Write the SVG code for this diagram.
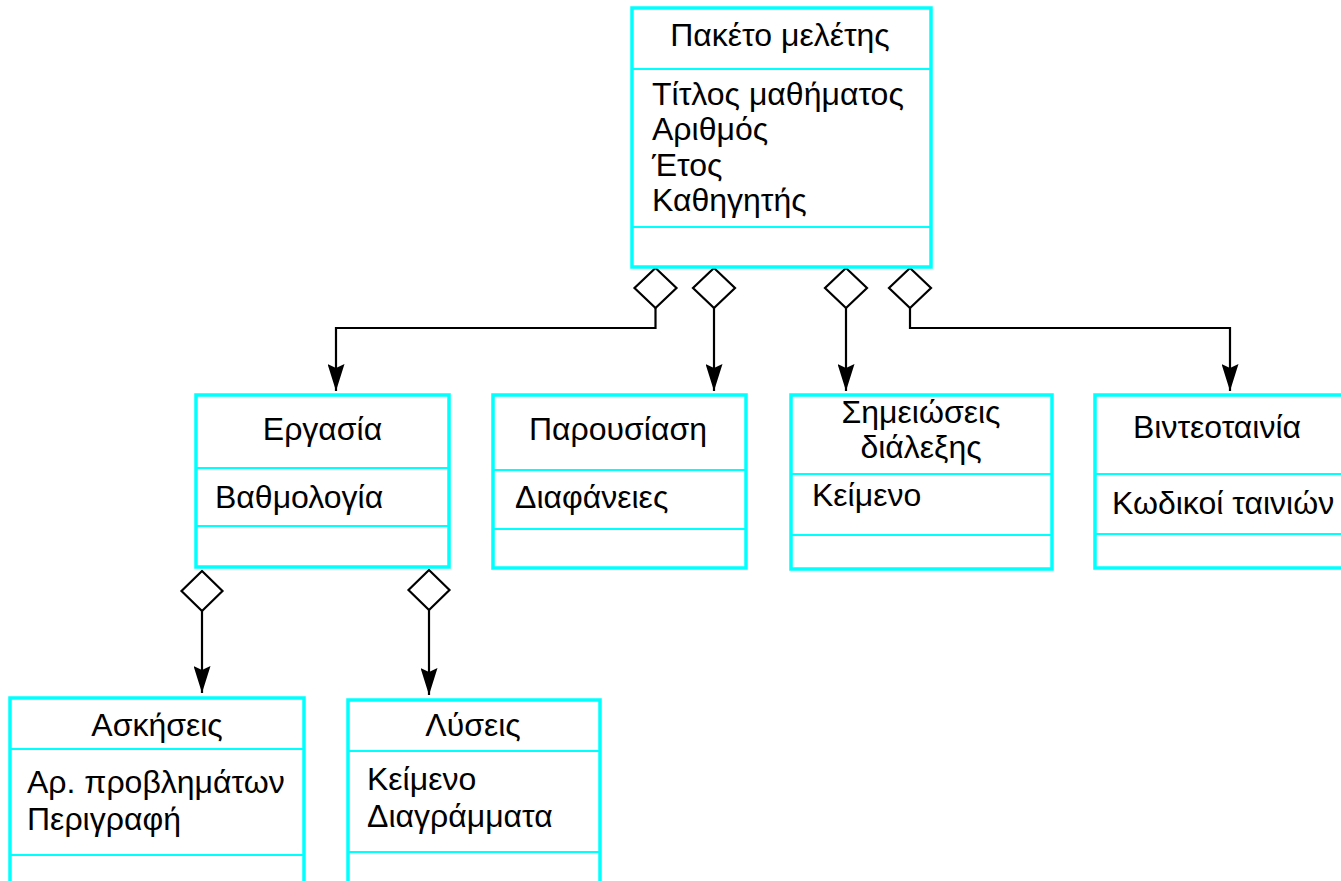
<svg xmlns="http://www.w3.org/2000/svg" width="1341" height="881" viewBox="0 0 1341 881">
<defs>
<style>
.box{fill:#fff;stroke:#00FFFF;stroke-width:3.5}
.div{stroke:#00FFFF;stroke-width:2}
.t{font-family:"Liberation Sans",Arial,sans-serif;font-size:32px;fill:#000}
.c{text-anchor:middle}
.ln{fill:none;stroke:#000;stroke-width:2.2}
.dia{fill:#fff;stroke:#000;stroke-width:2.2}
</style>
<marker id="arr" markerUnits="userSpaceOnUse" markerWidth="28" markerHeight="17" refX="27" refY="8.5" orient="auto" viewBox="0 0 28 17">
<path d="M0,0 L4,8.5 L0,17 L27,8.5 Z" fill="#000"/>
</marker>
</defs>
<rect width="1341" height="881" fill="#fff"/>

<g id="connectors">
<path class="ln" d="M655.5,308 V328 H336 V391" marker-end="url(#arr)"/>
<path class="dia" d="M655.5,268 L676.5,288 L655.5,308 L634.5,288 Z"/>
<path class="ln" d="M714,308 V391" marker-end="url(#arr)"/>
<path class="dia" d="M714,268 L735,288 L714,308 L693,288 Z"/>
<path class="ln" d="M846,308 V391" marker-end="url(#arr)"/>
<path class="dia" d="M846,268 L867,288 L846,308 L825,288 Z"/>
<path class="ln" d="M910,308 V328 H1230 V391" marker-end="url(#arr)"/>
<path class="dia" d="M910,268 L931,288 L910,308 L889,288 Z"/>
<path class="ln" d="M202,611 V693" marker-end="url(#arr)"/>
<path class="dia" d="M202,571 L222.5,591 L202,611 L181.5,591 Z"/>
<path class="ln" d="M429,610 V695" marker-end="url(#arr)"/>
<path class="dia" d="M429,570 L449.5,590 L429,610 L408.5,590 Z"/>
</g>

<g id="node-paketo">
<rect class="box" x="632" y="8" width="299" height="259"/>
<line class="div" x1="632" y1="69" x2="931" y2="69"/>
<line class="div" x1="632" y1="227" x2="931" y2="227"/>
<text class="t c" x="780" y="46">Πακέτο μελέτης</text>
<text class="t" x="652" y="105">Τίτλος μαθήματος</text>
<text class="t" x="652" y="140">Αριθμός</text>
<text class="t" x="652" y="176">Έτος</text>
<text class="t" x="652" y="211">Καθηγητής</text>
</g>

<g id="node-ergasia">
<rect class="box" x="196" y="395" width="253" height="172"/>
<line class="div" x1="196" y1="468" x2="449" y2="468"/>
<line class="div" x1="196" y1="526" x2="449" y2="526"/>
<text class="t c" x="322.5" y="440">Εργασία</text>
<text class="t" x="215" y="508">Βαθμολογία</text>
</g>

<g id="node-parousiasi">
<rect class="box" x="493" y="395" width="253" height="173"/>
<line class="div" x1="493" y1="470" x2="746" y2="470"/>
<line class="div" x1="493" y1="529" x2="746" y2="529"/>
<text class="t c" x="618" y="440">Παρουσίαση</text>
<text class="t" x="515" y="508">Διαφάνειες</text>
</g>

<g id="node-simeioseis">
<rect class="box" x="791" y="395" width="261" height="174"/>
<line class="div" x1="791" y1="474" x2="1052" y2="474"/>
<line class="div" x1="791" y1="535" x2="1052" y2="535"/>
<text class="t c" x="921" y="423">Σημειώσεις</text>
<text class="t c" x="921" y="458">διάλεξης</text>
<text class="t" x="812" y="506">Κείμενο</text>
</g>

<g id="node-vinteotainia">
<rect class="box" x="1095" y="395" width="250" height="173"/>
<line class="div" x1="1095" y1="474" x2="1345" y2="474"/>
<line class="div" x1="1095" y1="534" x2="1345" y2="534"/>
<text class="t c" x="1217" y="438">Βιντεοταινία</text>
<text class="t" x="1112" y="514">Κωδικοί ταινιών</text>
</g>

<g id="node-askiseis">
<rect class="box" x="10" y="698" width="294" height="190"/>
<line class="div" x1="10" y1="749" x2="304" y2="749"/>
<line class="div" x1="10" y1="855" x2="304" y2="855"/>
<text class="t c" x="157" y="736">Ασκήσεις</text>
<text class="t" x="27" y="793">Αρ. προβλημάτων</text>
<text class="t" x="27" y="830">Περιγραφή</text>
</g>

<g id="node-lyseis">
<rect class="box" x="348" y="700" width="252" height="190"/>
<line class="div" x1="348" y1="751" x2="600" y2="751"/>
<line class="div" x1="348" y1="852" x2="600" y2="852"/>
<text class="t c" x="473" y="736">Λύσεις</text>
<text class="t" x="367" y="790">Κείμενο</text>
<text class="t" x="367" y="827">Διαγράμματα</text>
</g>
</svg>
